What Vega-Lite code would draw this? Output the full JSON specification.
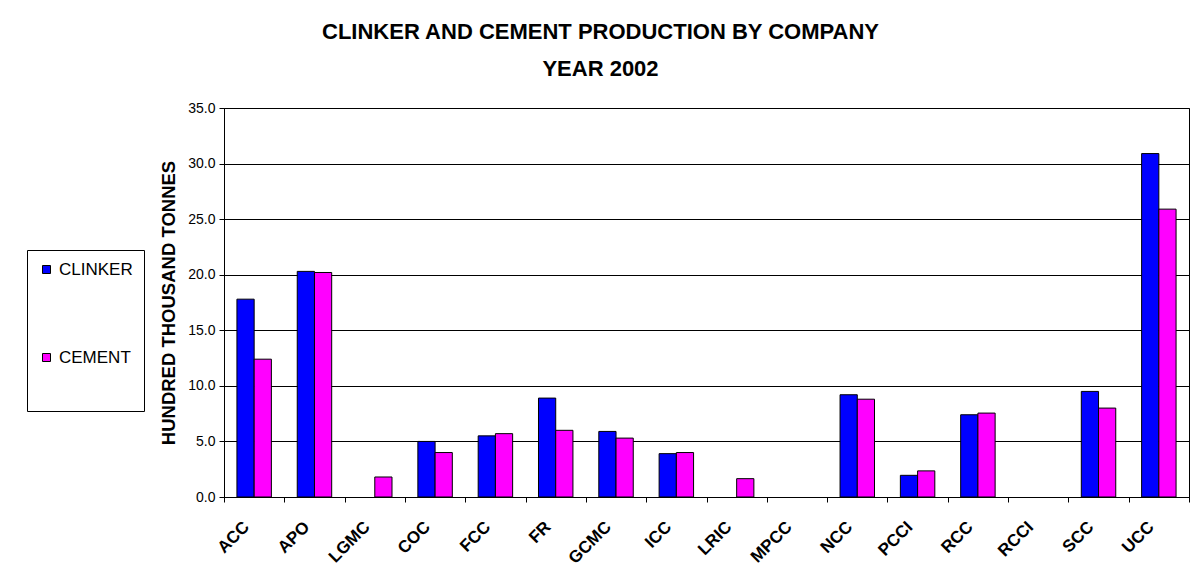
{
  "$schema": "https://vega.github.io/schema/vega-lite/v6.json",
  "width": 965,
  "height": 389,
  "autosize": {"type": "none"},
  "padding": {"left": 224, "top": 108, "right": 7, "bottom": 80},
  "background": "white",
  "title": {
    "text": ["CLINKER AND CEMENT PRODUCTION BY COMPANY", "YEAR 2002"],
    "font": "Liberation Sans",
    "fontSize": 22,
    "fontWeight": "bold",
    "color": "black",
    "lineHeight": 37,
    "anchor": "middle",
    "frame": "group",
    "dx": -106,
    "offset": 20
  },
  "data": {
    "values": [
      {"company": "ACC", "type": "CLINKER", "value": 17.8},
      {"company": "ACC", "type": "CEMENT", "value": 12.4},
      {"company": "APO", "type": "CLINKER", "value": 20.3},
      {"company": "APO", "type": "CEMENT", "value": 20.2},
      {"company": "LGMC", "type": "CEMENT", "value": 1.8},
      {"company": "COC", "type": "CLINKER", "value": 5.0},
      {"company": "COC", "type": "CEMENT", "value": 4.0},
      {"company": "FCC", "type": "CLINKER", "value": 5.5},
      {"company": "FCC", "type": "CEMENT", "value": 5.7},
      {"company": "FR", "type": "CLINKER", "value": 8.9},
      {"company": "FR", "type": "CEMENT", "value": 6.0},
      {"company": "GCMC", "type": "CLINKER", "value": 5.9},
      {"company": "GCMC", "type": "CEMENT", "value": 5.3},
      {"company": "ICC", "type": "CLINKER", "value": 3.9},
      {"company": "ICC", "type": "CEMENT", "value": 4.0},
      {"company": "LRIC", "type": "CEMENT", "value": 1.65},
      {"company": "NCC", "type": "CLINKER", "value": 9.2},
      {"company": "NCC", "type": "CEMENT", "value": 8.8},
      {"company": "PCCI", "type": "CLINKER", "value": 1.95},
      {"company": "PCCI", "type": "CEMENT", "value": 2.35},
      {"company": "RCC", "type": "CLINKER", "value": 7.4},
      {"company": "RCC", "type": "CEMENT", "value": 7.55},
      {"company": "SCC", "type": "CLINKER", "value": 9.5},
      {"company": "SCC", "type": "CEMENT", "value": 8.0},
      {"company": "UCC", "type": "CLINKER", "value": 30.9},
      {"company": "UCC", "type": "CEMENT", "value": 25.9}
    ]
  },
  "mark": {"type": "bar", "stroke": "black", "strokeWidth": 1, "opacity": 1},
  "encoding": {
    "x": {
      "field": "company",
      "type": "nominal",
      "sort": null,
      "scale": {
        "domain": ["ACC", "APO", "LGMC", "COC", "FCC", "FR", "GCMC", "ICC", "LRIC", "MPCC", "NCC", "PCCI", "RCC", "RCCI", "SCC", "UCC"],
        "paddingInner": 0,
        "paddingOuter": 0
      },
      "axis": {
        "title": null,
        "tickBand": "extent",
        "labelAngle": -45,
        "labelAlign": "right",
        "labelBaseline": "middle",
        "labelFont": "Liberation Sans",
        "labelFontSize": 17,
        "labelFontWeight": "bold",
        "labelColor": "black",
        "labelPadding": 22,
        "labelOffset": -8,
        "tickColor": "black",
        "tickSize": 5,
        "domainColor": "black",
        "grid": false
      }
    },
    "xOffset": {
      "field": "type",
      "type": "nominal",
      "sort": ["CLINKER", "CEMENT"],
      "scale": {"paddingInner": 0, "paddingOuter": 0.75}
    },
    "y": {
      "field": "value",
      "type": "quantitative",
      "scale": {"domain": [0, 35], "nice": false},
      "axis": {
        "title": "HUNDRED THOUSAND TONNES",
        "titleFont": "Liberation Sans",
        "titleFontSize": 18.5,
        "titleFontWeight": "bold",
        "titleColor": "black",
        "titlePadding": 9,
        "values": [0, 5, 10, 15, 20, 25, 30, 35],
        "format": ".1f",
        "labelFont": "Liberation Sans",
        "labelFontSize": 14,
        "labelColor": "black",
        "labelPadding": 4,
        "tickColor": "black",
        "tickSize": 5,
        "domainColor": "black",
        "grid": true,
        "gridColor": "black",
        "gridOpacity": 1,
        "gridWidth": 1
      }
    },
    "color": {
      "field": "type",
      "type": "nominal",
      "scale": {"domain": ["CLINKER", "CEMENT"], "range": ["#0000FF", "#FF00FF"]},
      "legend": {
        "orient": "none",
        "legendX": -197,
        "legendY": 142,
        "title": " ",
        "titleOrient": "bottom",
        "titleFontSize": 10,
        "titlePadding": 24,
        "strokeColor": "black",
        "fillColor": "white",
        "padding": 11,
        "rowPadding": 70,
        "symbolType": "square",
        "symbolSize": 64,
        "symbolStrokeColor": "black",
        "symbolStrokeWidth": 1,
        "symbolOpacity": 1,
        "labelFont": "Liberation Sans",
        "labelFontSize": 17,
        "labelColor": "black",
        "labelOffset": 4
      }
    }
  },
  "config": {
    "view": {"stroke": "black", "strokeWidth": 1},
    "font": "Liberation Sans"
  }
}
